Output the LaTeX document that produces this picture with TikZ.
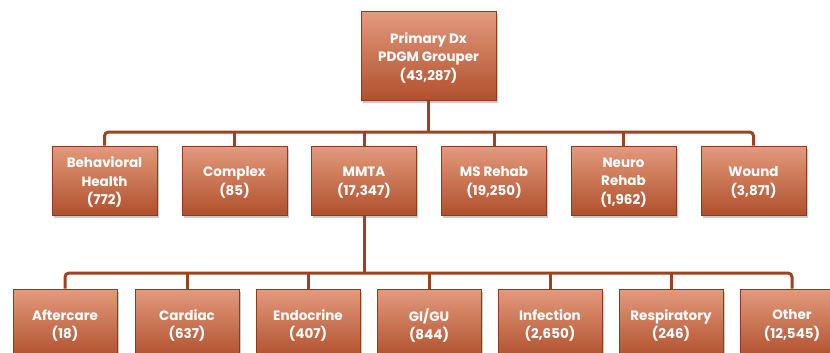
\documentclass[tikz,border=0pt]{standalone}
\usepackage{fontspec}
\setmainfont{Poppins}
\usetikzlibrary{shadows}
\definecolor{boxtop}{HTML}{E39A7D}
\definecolor{boxbot}{HTML}{B0502C}
\definecolor{boxedge}{HTML}{8E3A1E}
\definecolor{linkc}{HTML}{9E4220}
\tikzset{
  pbox/.style={draw=boxedge, line width=1pt, top color=boxtop, bottom color=boxbot,
    inner sep=0pt, minimum width=105pt, minimum height=69pt,
    drop shadow={shadow xshift=1.5pt, shadow yshift=-2.5pt, opacity=0.35, fill=black!60}},
  ptext/.style={text=white, font=\fontsize{13.5}{18.5}\selectfont\bfseries, align=center, inner sep=0pt},
  link/.style={draw=linkc, line width=3pt, rounded corners=4pt}
}
\newcommand{\pnode}[4][]{%
  \node[pbox,#1] (#2) at #3 {};
  \node[ptext] (#2t) at ([yshift=-2pt]#2.center) {#4};}
\begin{document}
\begin{tikzpicture}[x=1pt,y=-1pt]
\useasboundingbox (0,0) rectangle (830,353);
\clip (0,0) rectangle (830,353);
\pnode[minimum width=135pt, minimum height=88pt]{top}{(428.5,56)}{Primary Dx\\PDGM Grouper\\(43,287)}
\pnode{bh}{(104.5,180.5)}{Behavioral\\Health\\(772)}
\pnode{cx}{(234.5,180.5)}{Complex\\(85)}
\pnode{mm}{(364,180.5)}{MMTA\\(17,347)}
\pnode{ms}{(494,180.5)}{MS Rehab\\(19,250)}
\pnode{nr}{(623.5,180.5)}{Neuro\\Rehab\\(1,962)}
\pnode{wd}{(753.5,180.5)}{Wound\\(3,871)}
\coordinate (bar2) at (428.5,132);
\draw[link] (top.south) -- (bar2);
\draw[link] (bh.north) |- (bar2) -| (wd.north);
\foreach \n in {cx,mm,ms,nr} \draw[link] (\n.north) -- (\n.north |- bar2);
\pnode[minimum width=104pt]{af}{(65,323.5)}{Aftercare\\(18)}
\pnode[minimum width=104pt]{cd}{(187,323.5)}{Cardiac\\(637)}
\pnode[minimum width=104pt]{en}{(308,323.5)}{Endocrine\\(407)}
\pnode[minimum width=104pt]{gi}{(429,323.5)}{GI/GU\\(844)}
\pnode[minimum width=104pt]{in}{(550,323.5)}{Infection\\(2,650)}
\pnode[minimum width=104pt]{rs}{(671,323.5)}{Respiratory\\(246)}
\pnode[minimum width=104pt]{ot}{(792,323.5)}{Other\\(12,545)}
\coordinate (bar3) at (364,273);
\draw[link] (mm.south) -- (bar3);
\draw[link] (af.north) |- (bar3) -| (ot.north);
\foreach \n in {cd,en,gi,in,rs} \draw[link] (\n.north) -- (\n.north |- bar3);
\end{tikzpicture}
\end{document}
